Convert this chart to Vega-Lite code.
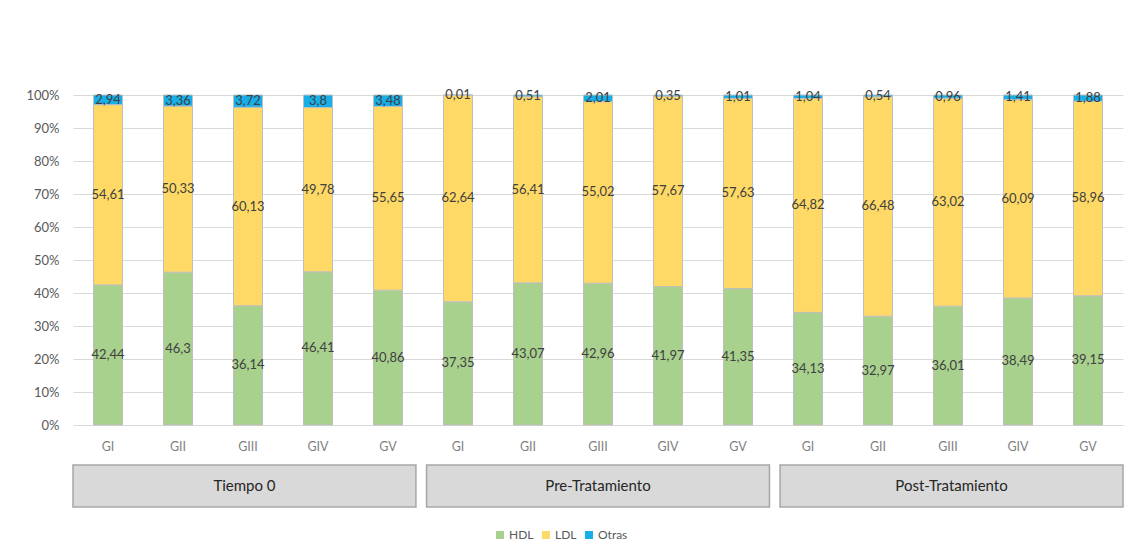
{
  "$schema": "https://vega.github.io/schema/vega-lite/v6.json",
  "background": "white",
  "padding": {"left": 25, "top": 89, "right": 8, "bottom": 4},
  "datasets": {
    "lipidos": [
      {"tiempo": "Tiempo 0", "grupo": "GI", "HDL": 42.44, "LDL": 54.61, "Otras": 2.94},
      {"tiempo": "Tiempo 0", "grupo": "GII", "HDL": 46.3, "LDL": 50.33, "Otras": 3.36},
      {"tiempo": "Tiempo 0", "grupo": "GIII", "HDL": 36.14, "LDL": 60.13, "Otras": 3.72},
      {"tiempo": "Tiempo 0", "grupo": "GIV", "HDL": 46.41, "LDL": 49.78, "Otras": 3.8},
      {"tiempo": "Tiempo 0", "grupo": "GV", "HDL": 40.86, "LDL": 55.65, "Otras": 3.48},
      {"tiempo": "Pre-Tratamiento", "grupo": "GI", "HDL": 37.35, "LDL": 62.64, "Otras": 0.01},
      {"tiempo": "Pre-Tratamiento", "grupo": "GII", "HDL": 43.07, "LDL": 56.41, "Otras": 0.51},
      {"tiempo": "Pre-Tratamiento", "grupo": "GIII", "HDL": 42.96, "LDL": 55.02, "Otras": 2.01},
      {"tiempo": "Pre-Tratamiento", "grupo": "GIV", "HDL": 41.97, "LDL": 57.67, "Otras": 0.35},
      {"tiempo": "Pre-Tratamiento", "grupo": "GV", "HDL": 41.35, "LDL": 57.63, "Otras": 1.01},
      {"tiempo": "Post-Tratamiento", "grupo": "GI", "HDL": 34.13, "LDL": 64.82, "Otras": 1.04},
      {"tiempo": "Post-Tratamiento", "grupo": "GII", "HDL": 32.97, "LDL": 66.48, "Otras": 0.54},
      {"tiempo": "Post-Tratamiento", "grupo": "GIII", "HDL": 36.01, "LDL": 63.02, "Otras": 0.96},
      {"tiempo": "Post-Tratamiento", "grupo": "GIV", "HDL": 38.49, "LDL": 60.09, "Otras": 1.41},
      {"tiempo": "Post-Tratamiento", "grupo": "GV", "HDL": 39.15, "LDL": 58.96, "Otras": 1.88}
    ]
  },
  "data": {"name": "lipidos"},
  "config": {
    "font": "Lato",
    "locale": {
      "number": {"decimal": ",", "thousands": ".", "grouping": [3], "currency": ["", " €"]}
    },
    "view": {"stroke": null},
    "axis": {"ticks": false, "domain": false, "title": null, "labelFont": "Lato"},
    "axisY": {
      "format": ".0%",
      "values": [0, 0.1, 0.2, 0.3, 0.4, 0.5, 0.6, 0.7, 0.8, 0.9, 1],
      "labelOverlap": false,
      "labelColor": "#595959",
      "labelFontSize": 13,
      "labelPadding": 14,
      "grid": true,
      "gridColor": "#d9d9d9",
      "gridWidth": 1
    },
    "legend": {"labelFont": "Lato"}
  },
  "spacing": 11,
  "vconcat": [
    {
      "width": 1050,
      "height": 330,
      "transform": [
        {"fold": ["HDL", "LDL", "Otras"], "as": ["lipido", "valor"]},
        {"calculate": "datum.tiempo + '|' + datum.grupo", "as": "clave"},
        {
          "stack": "valor",
          "groupby": ["clave"],
          "sort": [{"field": "lipido", "order": "ascending"}],
          "offset": "normalize",
          "as": ["y0", "y1"]
        },
        {"calculate": "(datum.y0 + datum.y1) / 2", "as": "ymid"}
      ],
      "encoding": {
        "x": {
          "field": "clave",
          "type": "nominal",
          "sort": null,
          "scale": {"paddingInner": 0.586, "paddingOuter": 0.293},
          "axis": {
            "labelExpr": "split(datum.value, '|')[1]",
            "labelAngle": 0,
            "labelColor": "#7f7f7f",
            "labelFontSize": 12.5,
            "labelPadding": 15,
            "grid": false
          }
        }
      },
      "layer": [
        {
          "mark": {"type": "bar", "stroke": "#bfbfbf", "strokeWidth": 1},
          "encoding": {
            "y": {
              "field": "y0",
              "type": "quantitative",
              "scale": {"domain": [0, 1], "nice": false}
            },
            "y2": {"field": "y1"},
            "color": {
              "field": "lipido",
              "type": "nominal",
              "scale": {
                "domain": ["HDL", "LDL", "Otras"],
                "range": ["#a9d18e", "#ffd966", "#17afe8"]
              },
              "legend": {
                "orient": "none",
                "legendX": 421,
                "legendY": 434,
                "direction": "horizontal",
                "title": null,
                "symbolType": "square",
                "symbolSize": 64,
                "symbolStrokeWidth": 0,
                "labelColor": "#595959",
                "labelFontSize": 12,
                "labelOffset": 3,
                "columnPadding": 6
              }
            }
          }
        },
        {
          "mark": {"type": "text", "color": "#404040", "fontSize": 13, "baseline": "middle", "align": "center"},
          "encoding": {
            "y": {"field": "ymid", "type": "quantitative"},
            "text": {"field": "valor", "type": "quantitative", "format": "~r"}
          }
        }
      ]
    },
    {
      "width": 1050,
      "height": 42,
      "transform": [
        {"aggregate": [{"op": "count", "as": "n"}], "groupby": ["tiempo"]}
      ],
      "encoding": {
        "x": {
          "field": "tiempo",
          "type": "nominal",
          "sort": ["Tiempo 0", "Pre-Tratamiento", "Post-Tratamiento"],
          "scale": {"paddingInner": 0.03, "paddingOuter": 0},
          "axis": null
        }
      },
      "layer": [
        {"mark": {"type": "bar", "fill": "#d9d9d9", "stroke": "#a6a6a6", "strokeWidth": 1.5}},
        {
          "mark": {"type": "text", "color": "#262626", "fontSize": 15, "baseline": "middle"},
          "encoding": {"text": {"field": "tiempo"}}
        }
      ]
    }
  ]
}
